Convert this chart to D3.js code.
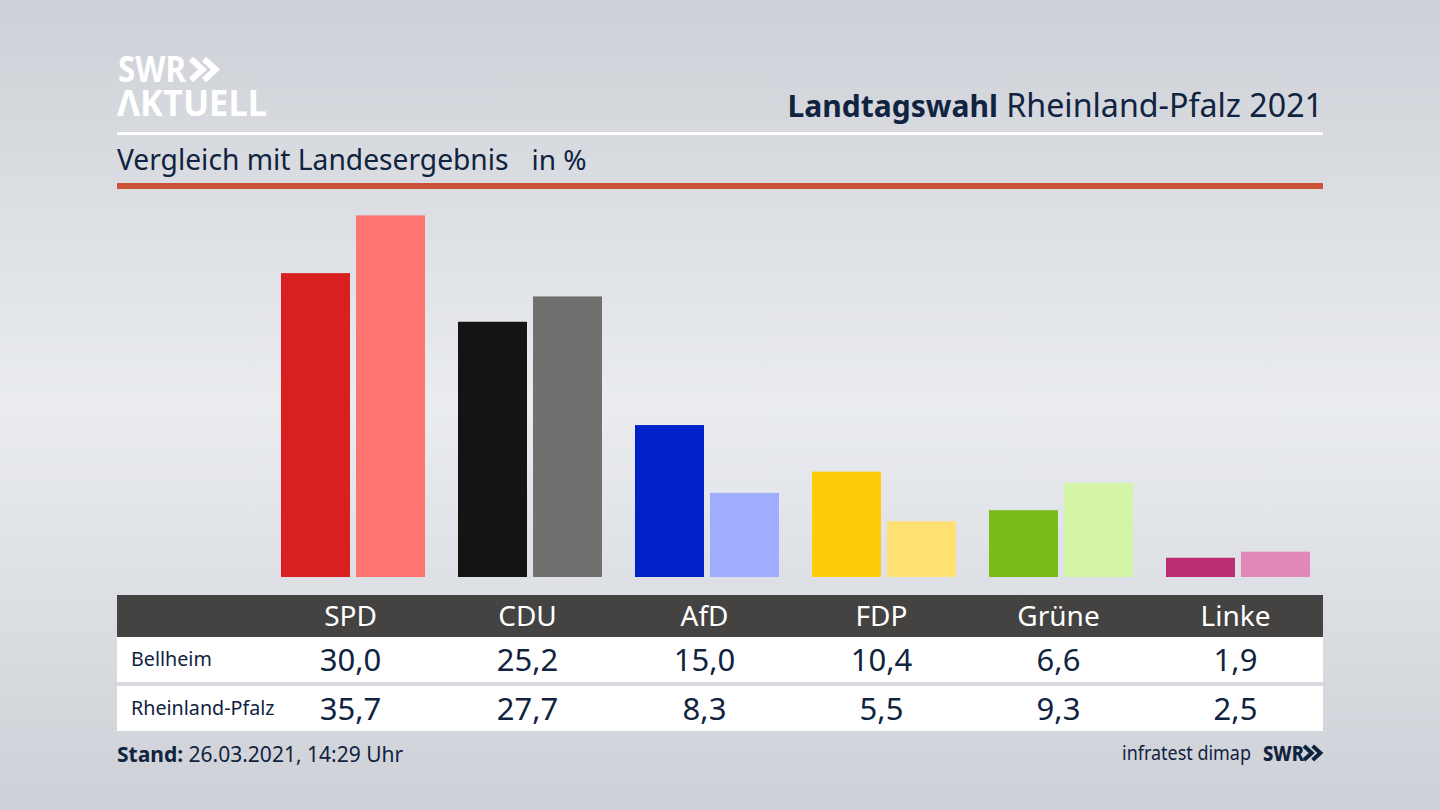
<!DOCTYPE html>
<html lang="de">
<head>
<meta charset="utf-8">
<script src="https://cdn.jsdelivr.net/npm/d3@7"></script>
<style>
	html, body { margin: 0; padding: 0; background: #dfe1e6; overflow: hidden; }
	svg { display: block; }
	text { font-family: "Noto Sans", sans-serif; fill: #10233f; }
	.axis path, .axis line { display: none; }
</style>
</head>
<body>
<div id="chart-area"></div>
<script>

// Data
let parties = ["SPD", "CDU", "AfD", "FDP", "Grüne", "Linke"];
let regions = ["Bellheim", "Rheinland-Pfalz"];
let bellheim = [30.0, 25.2, 15.0, 10.4, 6.6, 1.9];
let rheinlandPfalz = [35.7, 27.7, 8.3, 5.5, 9.3, 2.5];
let darkColors = ["#d7201f", "#141414", "#0020c8", "#ffcc0a", "#78bc1b", "#bb2e76"];
let lightColors = ["#ff7370", "#72706e", "#9fadff", "#ffe173", "#d4f5a8", "#e088b8"];

// SVG Size
let width = 1440,
	height = 810;

let left = 117,
	right = 1323;

let svg = d3.select("#chart-area").append("svg").attr("width", width).attr("height", height);

// background
let grad = svg.append("defs").append("linearGradient")
	.attr("id", "bg").attr("x1", 0).attr("y1", 0).attr("x2", 0).attr("y2", 1);
grad.append("stop").attr("offset", "0%").attr("stop-color", "#cdd0d6");
grad.append("stop").attr("offset", "50%").attr("stop-color", "#eaecf0");
grad.append("stop").attr("offset", "100%").attr("stop-color", "#cdd0d6");
svg.append("rect").attr("width", width).attr("height", height).attr("fill", "url(#bg)");

// chevrons used in both logos
function chevrons(x, y, size, color, weight) {
	[0, 0.62].forEach(k => {
		let x0 = x + k * size;
		svg.append("path")
			.attr("d", "M" + x0 + "," + y + "L" + (x0 + size * 0.55) + "," + (y + size / 2) + "L" + x0 + "," + (y + size))
			.attr("fill", "none")
			.attr("stroke", color)
			.attr("stroke-width", weight);
	});
}

// SWR AKTUELL logo
let logo = svg.append("text").attr("font-weight", 700).style("fill", "#fff");
logo.append("tspan").attr("x", 118).attr("y", 82).attr("font-size", 36)
	.attr("textLength", 68).attr("lengthAdjust", "spacingAndGlyphs").text("SWR");
logo.append("tspan").attr("x", 117).attr("y", 116).attr("font-size", 35)
	.attr("textLength", 150).attr("lengthAdjust", "spacingAndGlyphs").text("ΛKTUELL");
chevrons(191, 59, 21, "#fff", 6);

// header
let title = svg.append("text").attr("x", right).attr("y", 117).attr("text-anchor", "end");
title.append("tspan").attr("font-size", 30).attr("font-weight", 700).text("Landtagswahl");
title.append("tspan").attr("font-size", 32.2).text(" Rheinland-Pfalz 2021");

svg.append("rect").attr("x", left).attr("y", 132).attr("width", right - left).attr("height", 3).attr("fill", "#fff");

svg.append("text").attr("x", left).attr("y", 170).attr("font-size", 28.2).text("Vergleich mit Landesergebnis");
svg.append("text").attr("x", 531.5).attr("y", 170).attr("font-size", 28).text("in %");

svg.append("rect").attr("x", left).attr("y", 183).attr("width", right - left).attr("height", 6).attr("fill", "#cb5239");

// scales
let xScale = d3.scaleBand().domain(parties).range([262, 1324]).paddingInner(33 / 177).paddingOuter(33 / 354);
// bars sit slightly right of the table columns
let xBars = xScale.copy().range([264.5, 1326.5]);
let xInner = d3.scaleBand().domain(regions).range([0, xBars.bandwidth()]).paddingInner(6 / 75);
let yScale = d3.scaleLinear().domain([0, 35.7]).range([577, 215.4]);

// bars
let rows = [bellheim, rheinlandPfalz];
let colors = [darkColors, lightColors];

regions.forEach((region, r) => {
	svg.append("g").selectAll("rect")
		.data(rows[r])
		.enter()
		.append("rect")
		.attr("x", (d, i) => xBars(parties[i]) + xInner(region))
		.attr("y", d => yScale(d))
		.attr("width", xInner.bandwidth())
		.attr("height", d => yScale(0) - yScale(d))
		.attr("fill", (d, i) => colors[r][i]);
});

// table
let rowTop = [637, 686],
	rowHeight = [45, 45];

svg.append("rect").attr("x", left).attr("y", 595).attr("width", right - left).attr("height", 42).attr("fill", "#444341");

regions.forEach((region, r) => {
	svg.append("rect").attr("x", left).attr("y", rowTop[r]).attr("width", right - left).attr("height", rowHeight[r]).attr("fill", "#fff");

	svg.append("text").attr("x", 131).attr("y", rowTop[r] + 29).attr("font-size", 19.7).text(region);

	svg.append("g").selectAll("text")
		.data(rows[r])
		.enter()
		.append("text")
		.attr("x", (d, i) => xScale(parties[i]) + xScale.bandwidth() / 2)
		.attr("y", rowTop[r] + 34)
		.attr("text-anchor", "middle")
		.attr("font-size", 31)
		.text(d => d3.format(".1f")(d).replace(".", ","));
});

// party names
let xAxis = d3.axisBottom(xScale).tickSize(0).tickPadding(0);
let axisG = svg.append("g").attr("class", "axis").attr("transform", "translate(0,598)").call(xAxis);
axisG.selectAll("text")
	.attr("y", 8)
	.attr("font-size", 28)
	.style("font-family", "\"Noto Sans\", sans-serif")
	.style("fill", "#fff");

// footer
let stand = svg.append("text").attr("x", left).attr("y", 762).attr("font-size", 21);
stand.append("tspan").attr("font-weight", 700).text("Stand:");
stand.append("tspan").text(" 26.03.2021, 14:29 Uhr");

svg.append("text").attr("x", 1122).attr("y", 760).attr("font-size", 20)
	.attr("textLength", 129).attr("lengthAdjust", "spacingAndGlyphs").text("infratest dimap");
svg.append("text").attr("x", 1263).attr("y", 761).attr("font-size", 21).attr("font-weight", 800)
	.attr("textLength", 41).attr("lengthAdjust", "spacingAndGlyphs").text("SWR");
chevrons(1304, 746, 14, "#10233f", 4);

</script>
</body>
</html>
